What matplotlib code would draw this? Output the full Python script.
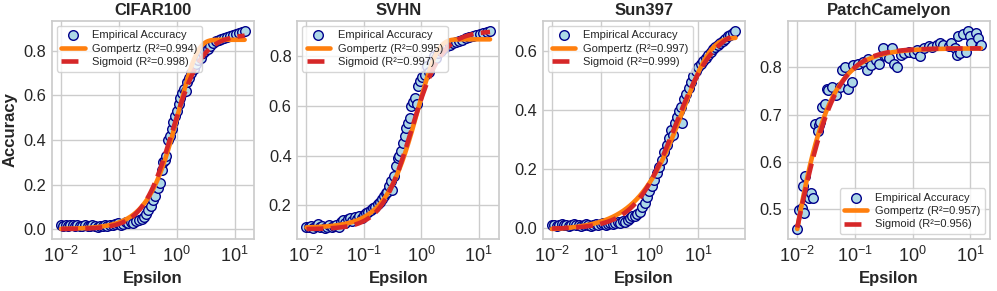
import numpy as np
import matplotlib
matplotlib.use("Agg")
import matplotlib.pyplot as plt
import matplotlib.ticker as mticker
import seaborn as sns

titulos = ["CIFAR100", "SVHN", "Sun397", "PatchCamelyon"]

# log10(epsilon) y accuracy
cifar_logeps = [-2.00, -1.96, -1.92, -1.88, -1.84, -1.80, -1.76, -1.72, -1.68, -1.63,
                -1.58, -1.54, -1.50, -1.46, -1.41, -1.37, -1.33, -1.28, -1.24, -1.20,
                -1.15, -1.11, -1.06, -1.02, -0.97, -0.93, -0.88, -0.84, -0.79, -0.75,
                -0.70, -0.66, -0.61, -0.57, -0.53, -0.49, -0.45, -0.41, -0.37, -0.33,
                -0.29, -0.26, -0.24, -0.21, -0.18, -0.15, -0.12, -0.09, -0.06, -0.03,
                0.00, 0.03, 0.06, 0.09, 0.12, 0.15, 0.18, 0.21, 0.25, 0.29,
                0.33, 0.37, 0.41, 0.45, 0.49, 0.53, 0.57, 0.62, 0.67, 0.72,
                0.77, 0.82, 0.87, 0.92, 0.97, 1.02, 1.07, 1.12, 1.17]
cifar_acc = [0.018, 0.016, 0.019, 0.015, 0.018, 0.017, 0.014, 0.019, 0.016, 0.013,
             0.018, 0.015, 0.012, 0.017, 0.014, 0.011, 0.016, 0.013, 0.018, 0.015,
             0.020, 0.017, 0.022, 0.026, 0.020, 0.024, 0.030, 0.026, 0.033, 0.029,
             0.036, 0.040, 0.046, 0.055, 0.070, 0.085, 0.105, 0.130, 0.150, 0.185,
             0.205, 0.265, 0.300, 0.310, 0.330, 0.400, 0.420, 0.450, 0.480, 0.510,
             0.530, 0.560, 0.590, 0.610, 0.630, 0.620, 0.660, 0.680, 0.700, 0.720,
             0.740, 0.760, 0.770, 0.790, 0.800, 0.810, 0.820, 0.835, 0.845, 0.850,
             0.855, 0.860, 0.862, 0.868, 0.872, 0.876, 0.880, 0.885, 0.890]

svhn_logeps = [-2.00, -1.96, -1.92, -1.88, -1.84, -1.80, -1.76, -1.72, -1.68, -1.64,
               -1.60, -1.56, -1.52, -1.48, -1.44, -1.40, -1.36, -1.32, -1.28, -1.24,
               -1.20, -1.16, -1.12, -1.08, -1.04, -1.00, -0.96, -0.92, -0.88, -0.84,
               -0.80, -0.76, -0.72, -0.68, -0.65, -0.62, -0.59, -0.56, -0.53, -0.50,
               -0.47, -0.44, -0.41, -0.38, -0.35, -0.32, -0.29, -0.26, -0.23, -0.20,
               -0.17, -0.14, -0.11, -0.08, -0.05, -0.02, 0.02, 0.06, 0.10, 0.14,
               0.18, 0.22, 0.26, 0.30, 0.35, 0.40, 0.45, 0.50, 0.55, 0.60,
               0.66, 0.72, 0.78, 0.84, 0.90, 0.96, 1.02, 1.08, 1.14, 1.20]
svhn_acc = [0.115, 0.112, 0.118, 0.110, 0.116, 0.125, 0.113, 0.119, 0.110, 0.115,
            0.120, 0.112, 0.117, 0.123, 0.115, 0.135, 0.140, 0.128, 0.145, 0.150,
            0.138, 0.152, 0.147, 0.158, 0.150, 0.162, 0.170, 0.175, 0.180, 0.190,
            0.195, 0.205, 0.215, 0.225, 0.240, 0.250, 0.255, 0.280, 0.300, 0.262,
            0.320, 0.360, 0.390, 0.400, 0.420, 0.450, 0.480, 0.510, 0.530, 0.550,
            0.600, 0.615, 0.630, 0.605, 0.680, 0.700, 0.715, 0.725, 0.760, 0.735,
            0.780, 0.800, 0.790, 0.810, 0.820, 0.830, 0.840, 0.845, 0.850, 0.855,
            0.860, 0.865, 0.870, 0.875, 0.880, 0.885, 0.888, 0.892, 0.895, 0.900]

sun_logeps = [-2.00, -1.95, -1.90, -1.85, -1.80, -1.75, -1.70, -1.65, -1.60, -1.55,
              -1.50, -1.45, -1.40, -1.35, -1.30, -1.25, -1.20, -1.15, -1.10, -1.05,
              -1.00, -0.95, -0.90, -0.85, -0.80, -0.75, -0.70, -0.65, -0.60, -0.55,
              -0.50, -0.45, -0.40, -0.35, -0.30, -0.25, -0.20, -0.15, -0.10, -0.05,
              0.00, 0.05, 0.10, 0.15, 0.20, 0.25, 0.30, 0.35, 0.40, 0.45,
              0.48, 0.52, 0.56, 0.60, 0.64, 0.67, 0.70, 0.75, 0.80, 0.85,
              0.90, 0.95, 1.00, 1.05, 1.10, 1.15, 1.20, 1.25, 1.30, 1.35,
              1.40, 1.45, 1.50, 1.55, 1.60, 1.65, 1.70, 1.76]
sun_acc = [0.008, 0.010, 0.006, 0.009, 0.011, 0.007, 0.010, 0.006, 0.009, 0.011,
           0.007, 0.010, 0.006, 0.008, 0.012, 0.009, 0.006, 0.010, 0.013, 0.008,
           0.011, 0.015, 0.010, 0.013, 0.017, 0.012, 0.016, 0.020, 0.015, 0.022,
           0.020, 0.027, 0.033, 0.038, 0.040, 0.046, 0.052, 0.070, 0.085, 0.105,
           0.125, 0.140, 0.160, 0.185, 0.205, 0.230, 0.255, 0.280, 0.305, 0.330,
           0.315, 0.355, 0.375, 0.395, 0.410, 0.355, 0.435, 0.455, 0.475, 0.495,
           0.515, 0.530, 0.545, 0.555, 0.565, 0.575, 0.585, 0.595, 0.605, 0.612,
           0.620, 0.628, 0.635, 0.642, 0.650, 0.655, 0.660, 0.668]

pcam_logeps = [-2.00, -1.97, -1.91, -1.89, -1.90, -1.86, -1.80, -1.77, -1.72, -1.69,
               -1.63, -1.60, -1.64, -1.57, -1.52, -1.49, -1.46, -1.40, -1.32, -1.26,
               -1.23, -1.18, -1.12, -1.06, -1.03, -0.95, -0.86, -0.80, -0.78, -0.72,
               -0.64, -0.58, -0.52, -0.46, -0.41, -0.35, -0.32, -0.27, -0.21, -0.15,
               -0.07, 0.02, 0.08, 0.13, 0.19, 0.28, 0.33, 0.42, 0.47, 0.53,
               0.62, 0.67, 0.73, 0.76, 0.79, 0.82, 0.87, 0.93, 0.96, 0.99,
               1.01, 1.10, 1.13, 1.18]
pcam_acc = [0.459, 0.499, 0.502, 0.491, 0.549, 0.570, 0.524, 0.534, 0.524, 0.680,
            0.677, 0.684, 0.666, 0.716, 0.723, 0.755, 0.751, 0.758, 0.741, 0.758,
            0.794, 0.801, 0.755, 0.769, 0.804, 0.807, 0.811, 0.794, 0.818, 0.804,
            0.815, 0.807, 0.840, 0.823, 0.819, 0.841, 0.807, 0.801, 0.826, 0.830,
            0.833, 0.830, 0.837, 0.823, 0.840, 0.844, 0.842, 0.848, 0.852, 0.848,
            0.844, 0.852, 0.840, 0.826, 0.866, 0.830, 0.870, 0.833, 0.877, 0.866,
            0.852, 0.873, 0.862, 0.848]

# parametros de los ajustes (en log10 epsilon)
# gompertz: d + a*exp(-exp(-c*(t - t0)))
gomp_d = [0.850, 0.866, 0.645, 0.0]
gomp_a = [-0.850, -0.756, -0.655, 0.840]
gomp_t0 = [0.04, -0.053, 0.70, -2.20]
gomp_c = [-3.2, -3.0, -1.8, 2.5]
gomp_r2 = [0.994, 0.995, 0.997, 0.957]
# sigmoide: lo + (hi - lo)/(1 + exp(-k*(t - t0)))
sig_lo = [0.0, 0.105, -0.005, 0.0]
sig_hi = [0.875, 0.900, 0.690, 0.840]
sig_t0 = [-0.08, -0.17, 0.52, -2.07]
sig_k = [3.9, 3.8, 2.4, 2.8]
sig_r2 = [0.998, 0.997, 0.999, 0.956]

datos = [(cifar_logeps, cifar_acc), (svhn_logeps, svhn_acc),
         (sun_logeps, sun_acc), (pcam_logeps, pcam_acc)]
legend_loc = ["upper left", "upper left", "upper left", "lower right"]

sns.set_theme(style="whitegrid")
plt.rcParams['font.family'] = ['Liberation Sans', 'DejaVu Sans']

fig, axs = plt.subplots(1, 4, figsize=(9.97, 2.91), dpi=100)
plt.subplots_adjust(left=0.052, right=0.993, top=0.928, bottom=0.179, wspace=0.215)

for i in range(4):
    ax = axs[i]
    t = np.array(datos[i][0])
    eps = 10 ** t
    acc = np.array(datos[i][1])
    tt = np.linspace(t.min(), t.max(), 400)
    gomp = gomp_d[i] + gomp_a[i] * np.exp(-np.exp(-gomp_c[i] * (tt - gomp_t0[i])))
    sig = sig_lo[i] + (sig_hi[i] - sig_lo[i]) / (1 + np.exp(-sig_k[i] * (tt - sig_t0[i])))

    ax.scatter(eps, acc, s=48, facecolor="lightblue", edgecolor="darkblue",
               linewidth=1.0, label="Empirical Accuracy", zorder=2)
    ax.plot(10 ** tt, gomp, color="#ff7f0e", lw=3.3, label="Gompertz (R²={:.3f})".format(gomp_r2[i]), zorder=3)
    ax.plot(10 ** tt, sig, color="#d62728", lw=3.3, ls="--", label="Sigmoid (R²={:.3f})".format(sig_r2[i]), zorder=4)
    ax.set_xscale("log")
    ax.xaxis.set_major_locator(mticker.LogLocator(base=10, numticks=12))
    ax.xaxis.set_minor_locator(mticker.NullLocator())
    ax.set_title(titulos[i], fontsize=12, fontweight="bold", pad=4)
    ax.set_xlabel("Epsilon", fontsize=12, fontweight="bold", labelpad=3.5)
    if i == 0:
        ax.set_ylabel("Accuracy", fontsize=12, fontweight="bold", labelpad=4)
    ax.tick_params(which="both", length=0, pad=4)
    ax.tick_params(axis="x", labelsize=13, pad=5)
    ax.tick_params(axis="y", labelsize=11.8)
    ax.legend(loc=legend_loc[i], fontsize=8, borderpad=0.4, labelspacing=0.3,
              handlelength=2.1, handletextpad=0.7, borderaxespad=0.45)

plt.savefig("out.png", dpi=100)
